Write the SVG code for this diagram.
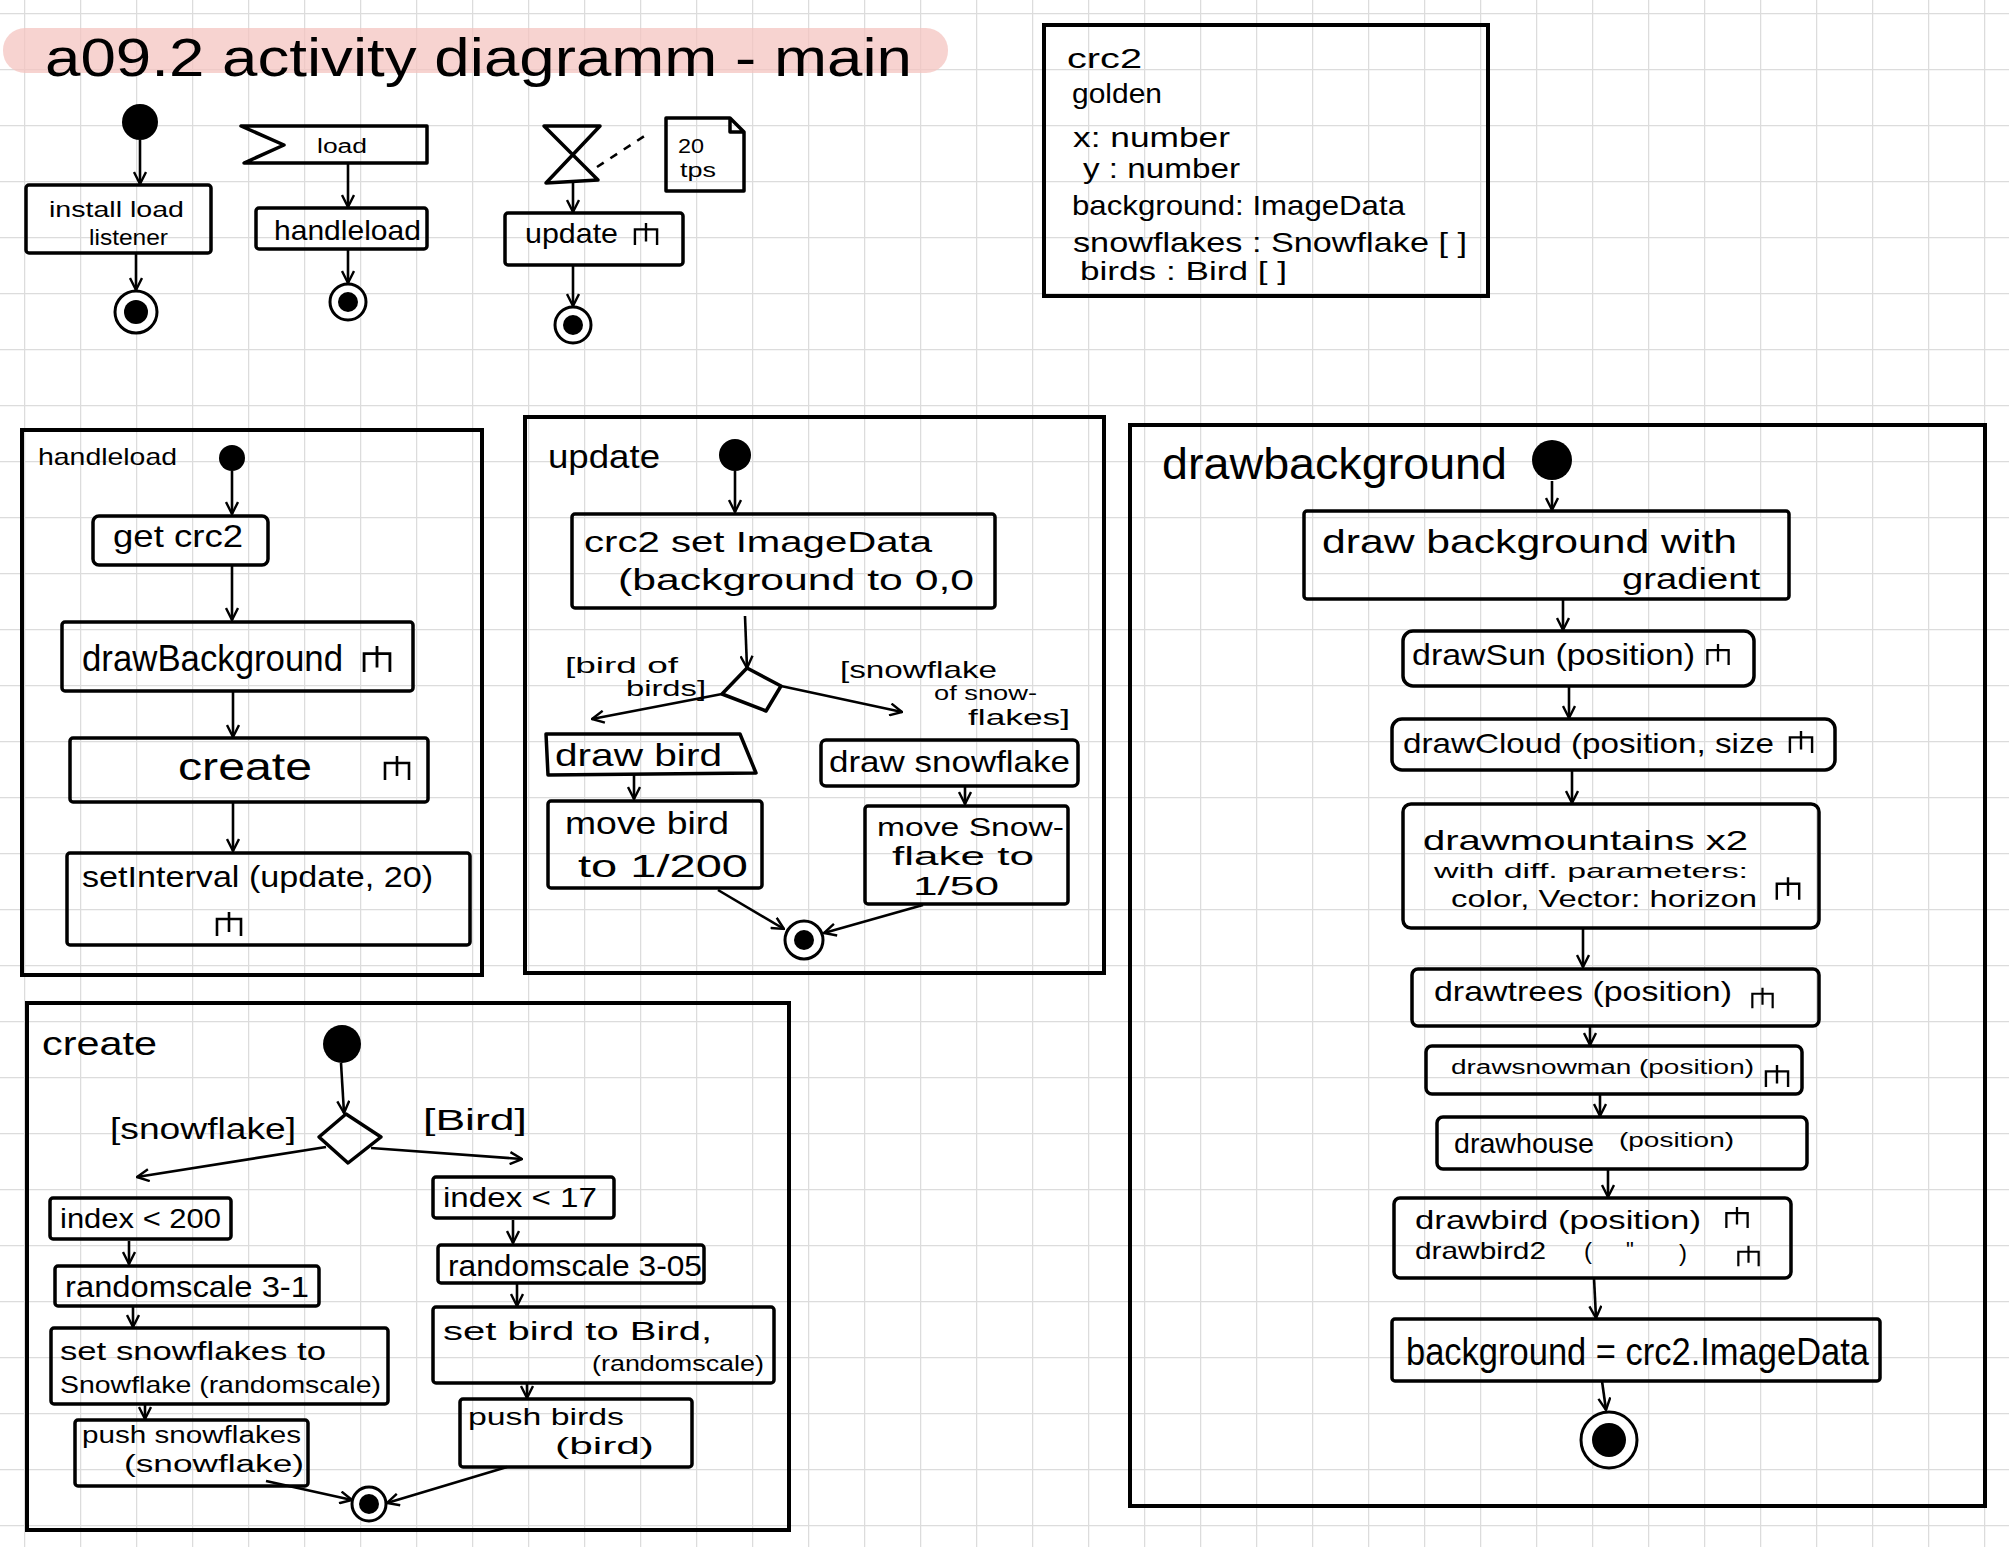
<svg xmlns="http://www.w3.org/2000/svg" width="2009" height="1547" viewBox="0 0 2009 1547">
<style>
.t{font-family:"Liberation Sans","DejaVu Sans",sans-serif;fill:#000}
.box{fill:none;stroke:#000;stroke-width:3.5;stroke-linejoin:round}
.frame{fill:none;stroke:#000;stroke-width:4}
.edge{fill:none;stroke:#000;stroke-width:2.6;marker-end:url(#arr)}
.init{fill:#000}
.fo{fill:#fff;stroke:#000;stroke-width:3}
.fi{fill:#000}
</style>
<defs>
<pattern id="grid" x="24" y="13" width="56" height="56" patternUnits="userSpaceOnUse">
<path d="M0,0 H56 M0,0 V56" stroke="#dcdcdc" stroke-width="2.5" fill="none"/>
</pattern>
<marker id="arr" viewBox="0 0 14 14" refX="13" refY="7" markerWidth="14" markerHeight="14" markerUnits="userSpaceOnUse" orient="auto">
<path d="M1,1 L13,7 L1,13" fill="none" stroke="#000" stroke-width="2.4"/>
</marker>
<symbol id="rake" viewBox="0 0 30 26">
<path d="M3,25 V8 H27 V25 M15,1 V21" fill="none" stroke="#000" stroke-width="2.6"/>
</symbol>
</defs>
<rect width="2009" height="1547" fill="#fff"/>
<rect width="2009" height="1547" fill="url(#grid)"/>

<g id="title">
<rect x="3" y="28" width="945" height="45" rx="22" fill="#f4c4c0" opacity="0.75"/>
<text class="t" x="45" y="76" font-size="54" textLength="867" lengthAdjust="spacingAndGlyphs">a09.2 activity diagramm - main</text>
</g>

<g id="connectors">
<path class="edge" d="M140,140 L140,184"/>
<path class="edge" d="M136,253 L136,290"/>
<path class="edge" d="M348,163 L348,207"/>
<path class="edge" d="M348,249 L348,283"/>
<path class="edge" d="M573,183 L573,212"/>
<path class="edge" d="M573,265 L573,306"/>
<path d="M597,167 L646,135" fill="none" stroke="#000" stroke-width="2.6" stroke-dasharray="8,8"/>

<path class="edge" d="M232,471 L232,514"/>
<path class="edge" d="M232,565 L232,620"/>
<path class="edge" d="M233,691 L233,737"/>
<path class="edge" d="M233,802 L233,851"/>

<path class="edge" d="M735,471 L735,512"/>
<path class="edge" d="M745,616 L747,668"/>
<path class="edge" d="M722,694 L592,719"/>
<path class="edge" d="M781,686 L902,712"/>
<path class="edge" d="M634,775 L634,799"/>
<path class="edge" d="M965,786 L965,804"/>
<path class="edge" d="M718,890 L784,929"/>
<path class="edge" d="M923,905 L824,933"/>

<path class="edge" d="M341,1063 L344,1113"/>
<path class="edge" d="M326,1147 L137,1177"/>
<path class="edge" d="M371,1148 L522,1159"/>
<path class="edge" d="M129,1241 L129,1264"/>
<path class="edge" d="M133,1306 L133,1327"/>
<path class="edge" d="M145,1404 L145,1419"/>
<path class="edge" d="M266,1481 L352,1500"/>
<path class="edge" d="M507,1467 L387,1503"/>
<path class="edge" d="M513,1220 L513,1243"/>
<path class="edge" d="M517,1284 L517,1306"/>
<path class="edge" d="M527,1383 L527,1398"/>

<path class="edge" d="M1552,481 L1552,510"/>
<path class="edge" d="M1563,599 L1563,630"/>
<path class="edge" d="M1569,686 L1569,718"/>
<path class="edge" d="M1572,770 L1572,803"/>
<path class="edge" d="M1583,928 L1583,967"/>
<path class="edge" d="M1590,1026 L1590,1045"/>
<path class="edge" d="M1600,1094 L1600,1116"/>
<path class="edge" d="M1608,1169 L1608,1197"/>
<path class="edge" d="M1594,1278 L1596,1318"/>
<path class="edge" d="M1602,1381 L1606,1410"/>
</g>

<!-- top mini diagrams -->
<g id="top-init"><circle class="init" cx="140" cy="122" r="18"/></g>
<g id="top-install">
<rect class="box" x="26" y="185" width="185" height="68" rx="3"/>
<text class="t" x="49" y="217" font-size="22" textLength="135" lengthAdjust="spacingAndGlyphs">install load</text>
<text class="t" x="89" y="245" font-size="22" textLength="79" lengthAdjust="spacingAndGlyphs">listener</text>
</g>
<g id="top-final1"><circle class="fo" cx="136" cy="312" r="21"/><circle class="fi" cx="136" cy="312" r="12"/></g>
<g id="top-load">
<path class="box" d="M241,126 L427,126 L427,163 L244,163 L284,145 Z"/>
<text class="t" x="317" y="153" font-size="20" textLength="50" lengthAdjust="spacingAndGlyphs">load</text>
</g>
<g id="top-handleload">
<rect class="box" x="256" y="208" width="171" height="41" rx="3"/>
<text class="t" x="274" y="240" font-size="28" textLength="147" lengthAdjust="spacingAndGlyphs">handleload</text>
</g>
<g id="top-final2"><circle class="fo" cx="348" cy="302" r="18"/><circle class="fi" cx="348" cy="302" r="10"/></g>
<g id="top-timer">
<path class="box" d="M544,126 L600,126 L546,183 L598,180 Z"/>
</g>
<g id="top-note">
<path class="box" d="M666,118 L730,118 L744,132 L744,191 L666,191 Z M730,118 L730,132 L744,132"/>
<text class="t" x="678" y="153" font-size="20" textLength="26" lengthAdjust="spacingAndGlyphs">20</text>
<text class="t" x="680" y="177" font-size="20" textLength="36" lengthAdjust="spacingAndGlyphs">tps</text>
</g>
<g id="top-update">
<rect class="box" x="505" y="213" width="178" height="52" rx="3"/>
<text class="t" x="525" y="243" font-size="28" textLength="93" lengthAdjust="spacingAndGlyphs">update</text>
<use href="#rake" x="631" y="222" width="30" height="24"/>
</g>
<g id="top-final3"><circle class="fo" cx="573" cy="325" r="18"/><circle class="fi" cx="573" cy="325" r="10"/></g>

<!-- class box -->
<g id="globals">
<rect x="1044" y="25" width="444" height="271" fill="none" stroke="#000" stroke-width="4"/>
<text class="t" x="1067" y="68" font-size="28" textLength="75" lengthAdjust="spacingAndGlyphs">crc2</text>
<text class="t" x="1072" y="103" font-size="28" textLength="90" lengthAdjust="spacingAndGlyphs">golden</text>
<text class="t" x="1073" y="147" font-size="28" textLength="157" lengthAdjust="spacingAndGlyphs">x: number</text>
<text class="t" x="1083" y="178" font-size="28" textLength="157" lengthAdjust="spacingAndGlyphs">y : number</text>
<text class="t" x="1072" y="215" font-size="28" textLength="333" lengthAdjust="spacingAndGlyphs">background: ImageData</text>
<text class="t" x="1073" y="252" font-size="28" textLength="394" lengthAdjust="spacingAndGlyphs">snowflakes : Snowflake [ ]</text>
<text class="t" x="1080" y="280" font-size="26" textLength="207" lengthAdjust="spacingAndGlyphs">birds : Bird [ ]</text>
</g>

<!-- handleload frame -->
<g id="frame-handleload">
<rect class="frame" x="22" y="430" width="460" height="545"/>
<text class="t" x="38" y="465" font-size="24" textLength="139" lengthAdjust="spacingAndGlyphs">handleload</text>
</g>
<g id="hl-init"><circle class="init" cx="232" cy="458" r="13"/></g>
<g id="hl-getcrc2">
<rect class="box" x="93" y="516" width="175" height="49" rx="6"/>
<text class="t" x="113" y="547" font-size="32" textLength="130" lengthAdjust="spacingAndGlyphs">get crc2</text>
</g>
<g id="hl-drawbackground">
<rect class="box" x="62" y="622" width="351" height="69" rx="3"/>
<text class="t" x="82" y="671" font-size="36" textLength="261" lengthAdjust="spacingAndGlyphs">drawBackground</text>
<use href="#rake" x="360" y="645" width="34" height="28"/>
</g>
<g id="hl-create">
<rect class="box" x="70" y="738" width="358" height="64" rx="3"/>
<text class="t" x="178" y="780" font-size="38" textLength="134" lengthAdjust="spacingAndGlyphs">create</text>
<use href="#rake" x="380" y="755" width="34" height="26"/>
</g>
<g id="hl-setinterval">
<rect class="box" x="67" y="853" width="403" height="92" rx="3"/>
<text class="t" x="82" y="887" font-size="30" textLength="351" lengthAdjust="spacingAndGlyphs">setInterval (update, 20)</text>
<use href="#rake" x="211" y="911" width="36" height="26"/>
</g>

<!-- update frame -->
<g id="frame-update">
<rect class="frame" x="525" y="417" width="579" height="556"/>
<text class="t" x="548" y="468" font-size="34" textLength="112" lengthAdjust="spacingAndGlyphs">update</text>
</g>
<g id="up-init"><circle class="init" cx="735" cy="455" r="16"/></g>
<g id="up-setimage">
<rect class="box" x="572" y="514" width="423" height="94" rx="3"/>
<text class="t" x="584" y="552" font-size="30" textLength="348" lengthAdjust="spacingAndGlyphs">crc2 set ImageData</text>
<text class="t" x="618" y="590" font-size="30" textLength="356" lengthAdjust="spacingAndGlyphs">(background to 0,0</text>
</g>
<g id="up-decision">
<path class="box" d="M747,668 L781,686 L766,711 L722,694 Z"/>
<text class="t" x="565" y="673" font-size="22" textLength="113" lengthAdjust="spacingAndGlyphs">[bird of</text>
<text class="t" x="626" y="696" font-size="22" textLength="80" lengthAdjust="spacingAndGlyphs">birds]</text>
<text class="t" x="840" y="678" font-size="24" textLength="157" lengthAdjust="spacingAndGlyphs">[snowflake</text>
<text class="t" x="934" y="700" font-size="20" textLength="103" lengthAdjust="spacingAndGlyphs">of snow-</text>
<text class="t" x="968" y="725" font-size="22" textLength="102" lengthAdjust="spacingAndGlyphs">flakes]</text>
</g>
<g id="up-drawbird">
<path class="box" d="M546,734 L740,734 L756,773 L548,775 Z"/>
<text class="t" x="555" y="766" font-size="32" textLength="167" lengthAdjust="spacingAndGlyphs">draw bird</text>
</g>
<g id="up-movebird">
<rect class="box" x="548" y="801" width="214" height="87" rx="3"/>
<text class="t" x="565" y="834" font-size="32" textLength="164" lengthAdjust="spacingAndGlyphs">move bird</text>
<text class="t" x="578" y="877" font-size="32" textLength="170" lengthAdjust="spacingAndGlyphs">to 1/200</text>
</g>
<g id="up-drawsnowflake">
<rect class="box" x="821" y="740" width="257" height="46" rx="5"/>
<text class="t" x="829" y="772" font-size="30" textLength="241" lengthAdjust="spacingAndGlyphs">draw snowflake</text>
</g>
<g id="up-movesnowflake">
<rect class="box" x="865" y="806" width="203" height="98" rx="3"/>
<text class="t" x="877" y="836" font-size="26" textLength="187" lengthAdjust="spacingAndGlyphs">move Snow-</text>
<text class="t" x="892" y="865" font-size="26" textLength="142" lengthAdjust="spacingAndGlyphs">flake to</text>
<text class="t" x="913" y="895" font-size="26" textLength="86" lengthAdjust="spacingAndGlyphs">1/50</text>
</g>
<g id="up-final"><circle class="fo" cx="804" cy="940" r="19"/><circle class="fi" cx="804" cy="940" r="10"/></g>

<!-- create frame -->
<g id="frame-create">
<rect class="frame" x="27" y="1003" width="762" height="527"/>
<text class="t" x="42" y="1055" font-size="34" textLength="115" lengthAdjust="spacingAndGlyphs">create</text>
</g>
<g id="cr-init"><circle class="init" cx="342" cy="1044" r="19"/></g>
<g id="cr-decision">
<path class="box" d="M346,1114 L381,1137 L348,1163 L319,1137 Z"/>
<text class="t" x="110" y="1139" font-size="30" textLength="186" lengthAdjust="spacingAndGlyphs">[snowflake]</text>
<text class="t" x="423" y="1130" font-size="30" textLength="104" lengthAdjust="spacingAndGlyphs">[Bird]</text>
</g>
<g id="cr-index200">
<rect class="box" x="50" y="1198" width="181" height="41" rx="3"/>
<text class="t" x="60" y="1228" font-size="28" textLength="161" lengthAdjust="spacingAndGlyphs">index &lt; 200</text>
</g>
<g id="cr-randomscale1">
<rect class="box" x="55" y="1266" width="264" height="40" rx="3"/>
<text class="t" x="65" y="1297" font-size="30" textLength="244" lengthAdjust="spacingAndGlyphs">randomscale 3-1</text>
</g>
<g id="cr-setsnowflakes">
<rect class="box" x="51" y="1328" width="337" height="76" rx="3"/>
<text class="t" x="60" y="1360" font-size="25" textLength="266" lengthAdjust="spacingAndGlyphs">set snowflakes to</text>
<text class="t" x="60" y="1393" font-size="24" textLength="321" lengthAdjust="spacingAndGlyphs">Snowflake (randomscale)</text>
</g>
<g id="cr-pushsnowflakes">
<rect class="box" x="75" y="1420" width="233" height="66" rx="3"/>
<text class="t" x="82" y="1443" font-size="23" textLength="219" lengthAdjust="spacingAndGlyphs">push snowflakes</text>
<text class="t" x="124" y="1472" font-size="23" textLength="180" lengthAdjust="spacingAndGlyphs">(snowflake)</text>
</g>
<g id="cr-index17">
<rect class="box" x="433" y="1177" width="181" height="41" rx="3"/>
<text class="t" x="443" y="1207" font-size="28" textLength="154" lengthAdjust="spacingAndGlyphs">index &lt; 17</text>
</g>
<g id="cr-randomscale2">
<rect class="box" x="438" y="1245" width="266" height="38" rx="3"/>
<text class="t" x="448" y="1276" font-size="30" textLength="254" lengthAdjust="spacingAndGlyphs">randomscale 3-05</text>
</g>
<g id="cr-setbird">
<rect class="box" x="433" y="1307" width="341" height="76" rx="3"/>
<text class="t" x="443" y="1340" font-size="26" textLength="269" lengthAdjust="spacingAndGlyphs">set bird to Bird,</text>
<text class="t" x="592" y="1371" font-size="22" textLength="172" lengthAdjust="spacingAndGlyphs">(randomscale)</text>
</g>
<g id="cr-pushbirds">
<rect class="box" x="460" y="1399" width="232" height="68" rx="3"/>
<text class="t" x="468" y="1425" font-size="24" textLength="156" lengthAdjust="spacingAndGlyphs">push birds</text>
<text class="t" x="555" y="1454" font-size="24" textLength="99" lengthAdjust="spacingAndGlyphs">(bird)</text>
</g>
<g id="cr-final"><circle class="fo" cx="369" cy="1504" r="17"/><circle class="fi" cx="369" cy="1504" r="10"/></g>

<!-- drawbackground frame -->
<g id="frame-drawbackground">
<rect class="frame" x="1130" y="425" width="855" height="1081"/>
<text class="t" x="1162" y="479" font-size="44" textLength="345" lengthAdjust="spacingAndGlyphs">drawbackground</text>
</g>
<g id="db-init"><circle class="init" cx="1552" cy="460" r="20"/></g>
<g id="db-gradient">
<rect class="box" x="1304" y="511" width="485" height="88" rx="3"/>
<text class="t" x="1322" y="553" font-size="34" textLength="415" lengthAdjust="spacingAndGlyphs">draw background with</text>
<text class="t" x="1622" y="589" font-size="30" textLength="138" lengthAdjust="spacingAndGlyphs">gradient</text>
</g>
<g id="db-sun">
<rect class="box" x="1403" y="631" width="351" height="55" rx="10"/>
<text class="t" x="1412" y="665" font-size="30" textLength="283" lengthAdjust="spacingAndGlyphs">drawSun (position)</text>
<use href="#rake" x="1704" y="643" width="28" height="23"/>
</g>
<g id="db-cloud">
<rect class="box" x="1392" y="719" width="443" height="51" rx="10"/>
<text class="t" x="1403" y="753" font-size="28" textLength="371" lengthAdjust="spacingAndGlyphs">drawCloud (position, size</text>
<use href="#rake" x="1785" y="730" width="32" height="24"/>
</g>
<g id="db-mountains">
<rect class="box" x="1403" y="804" width="416" height="124" rx="8"/>
<text class="t" x="1423" y="850" font-size="28" textLength="325" lengthAdjust="spacingAndGlyphs">drawmountains x2</text>
<text class="t" x="1434" y="878" font-size="21" textLength="314" lengthAdjust="spacingAndGlyphs">with diff. parameters:</text>
<text class="t" x="1451" y="907" font-size="24" textLength="306" lengthAdjust="spacingAndGlyphs">color, Vector: horizon</text>
<use href="#rake" x="1774" y="876" width="28" height="25"/>
</g>
<g id="db-trees">
<rect class="box" x="1412" y="969" width="407" height="57" rx="6"/>
<text class="t" x="1434" y="1001" font-size="28" textLength="298" lengthAdjust="spacingAndGlyphs">drawtrees (position)</text>
<use href="#rake" x="1748" y="987" width="29" height="22"/>
</g>
<g id="db-snowman">
<rect class="box" x="1426" y="1046" width="376" height="48" rx="6"/>
<text class="t" x="1451" y="1074" font-size="20" textLength="303" lengthAdjust="spacingAndGlyphs">drawsnowman (position)</text>
<use href="#rake" x="1763" y="1064" width="28" height="24"/>
</g>
<g id="db-house">
<rect class="box" x="1437" y="1117" width="370" height="52" rx="6"/>
<text class="t" x="1454" y="1153" font-size="28" textLength="140" lengthAdjust="spacingAndGlyphs">drawhouse</text>
<text class="t" x="1619" y="1147" font-size="20" textLength="115" lengthAdjust="spacingAndGlyphs">(position)</text>
</g>
<g id="db-birds">
<rect class="box" x="1394" y="1198" width="397" height="80" rx="6"/>
<text class="t" x="1415" y="1229" font-size="25" textLength="286" lengthAdjust="spacingAndGlyphs">drawbird (position)</text>
<use href="#rake" x="1723" y="1206" width="28" height="23"/>
<text class="t" x="1415" y="1259" font-size="24" textLength="131" lengthAdjust="spacingAndGlyphs">drawbird2</text>
<text class="t" x="1584" y="1259" font-size="24">(</text>
<text class="t" x="1626" y="1257" font-size="22">"</text>
<text class="t" x="1679" y="1261" font-size="24">)</text>
<use href="#rake" x="1734" y="1245" width="29" height="22"/>
</g>
<g id="db-store">
<rect class="box" x="1392" y="1319" width="488" height="62" rx="3"/>
<text class="t" x="1406" y="1365" font-size="38" textLength="463" lengthAdjust="spacingAndGlyphs">background = crc2.ImageData</text>
</g>
<g id="db-final"><circle class="fo" cx="1609" cy="1440" r="28"/><circle class="fi" cx="1609" cy="1440" r="17"/></g>
</svg>
